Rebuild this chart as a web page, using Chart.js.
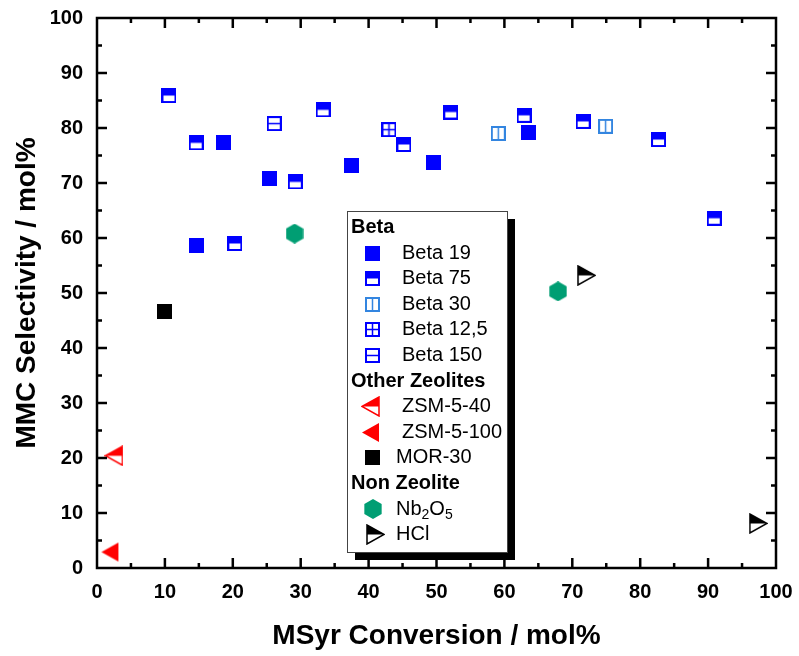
<!DOCTYPE html>
<html>
<head>
<meta charset="utf-8">
<script src="https://cdn.jsdelivr.net/npm/chart.js@4.4.1/dist/chart.umd.min.js"></script>
<style>
  html, body { margin: 0; padding: 0; background: #fff; }
</style>
</head>
<body>
<canvas id="chart" width="799" height="656"></canvas>
<script>
// values
const beta19X = [18.6, 25.4, 37.5, 49.5, 63.5, 14.7];
const beta19Y = [77.3, 70.8, 73.2, 73.8, 79.1, 58.7];
const beta75X = [10.6, 14.6, 33.3, 45.2, 29.2, 20.3, 52.1, 62.9, 71.6, 82.7, 90.9];
const beta75Y = [85.9, 77.3, 83.3, 77.0, 70.2, 59.0, 82.9, 82.3, 81.2, 77.9, 63.6];
const beta30X = [59.1, 74.9];
const beta30Y = [79.0, 80.3];
const beta125X = [43.0];
const beta125Y = [79.7];
const beta150X = [26.1];
const beta150Y = [80.8];
const zsm40X = [2.5];
const zsm40Y = [20.4];
const zsm100X = [1.9];
const zsm100Y = [2.9];
const mor30X = [10.0];
const mor30Y = [46.7];
const nb2o5X = [29.1, 67.9];
const nb2o5Y = [60.8, 50.3];
const hclX = [72.1, 97.4];
const hclY = [53.2, 8.1];

const xTitle = 'MSyr Conversion / mol%';
const yTitle = 'MMC Selectivity / mol%';
const FONT = '"Liberation Sans", Arial, sans-serif';

const BLUE = '#0000ff';
const LIGHTBLUE = '#3385e0';
const RED = '#ff0000';
const GREEN = '#009e73';

function pts(xs, ys) {
    return xs.map((v, i) => ({x: v, y: ys[i]}));
}

function marker(w, h, draw) {
    const c = document.createElement('canvas');
    c.width = w;
    c.height = h;
    draw(c.getContext('2d'), w, h);
    return c;
}

// square markers, 15px
function square(color, opts) {
    return marker(15, 15, (ctx) => {
        if (opts.full) {
            ctx.fillStyle = color;
            ctx.fillRect(0, 0, 15, 15);
            return;
        }
        ctx.fillStyle = '#fff';
        ctx.fillRect(1, 1, 13, 13);
        if (opts.top) {
            ctx.fillStyle = color;
            ctx.fillRect(0, 0, 15, 7.5);
        }
        ctx.strokeStyle = color;
        ctx.lineWidth = 2;
        ctx.strokeRect(1, 1, 13, 13);
        ctx.lineWidth = 1.5;
        ctx.beginPath();
        if (opts.h) { ctx.moveTo(1, 7.5); ctx.lineTo(14, 7.5); }
        if (opts.v) { ctx.moveTo(7.5, 1); ctx.lineTo(7.5, 14); }
        ctx.stroke();
    });
}

function triangle(color, pointLeft, half) {
    return marker(19, 21, (ctx) => {
        const tip = pointLeft ? [1, 10.5] : [18, 10.5];
        const bx = pointLeft ? 18 : 1;
        ctx.fillStyle = half ? '#fff' : color;
        ctx.beginPath();
        ctx.moveTo(tip[0], tip[1]);
        ctx.lineTo(bx, 1);
        ctx.lineTo(bx, 20);
        ctx.closePath();
        ctx.fill();
        if (half) {
            ctx.fillStyle = color;
            ctx.beginPath();
            ctx.moveTo(tip[0], tip[1]);
            ctx.lineTo(bx, 1);
            ctx.lineTo(bx, 10.5);
            ctx.closePath();
            ctx.fill();
            ctx.strokeStyle = color;
            ctx.lineWidth = 1.5;
            ctx.beginPath();
            ctx.moveTo(tip[0], tip[1]);
            ctx.lineTo(bx, 1);
            ctx.lineTo(bx, 20);
            ctx.closePath();
            ctx.stroke();
        }
    });
}

function hexagon(color) {
    return marker(18, 20, (ctx) => {
        ctx.fillStyle = color;
        ctx.beginPath();
        for (let k = 0; k < 6; k++) {
            const a = (-90 + 60 * k) * Math.PI / 180;
            const px = 9 + 10 * Math.cos(a);
            const py = 10 + 10 * Math.sin(a);
            if (k === 0) ctx.moveTo(px, py); else ctx.lineTo(px, py);
        }
        ctx.closePath();
        ctx.fill();
    });
}

const mBeta19 = square(BLUE, {full: true});
const mBeta75 = square(BLUE, {top: true});
const mBeta30 = square(LIGHTBLUE, {v: true});
const mBeta125 = square(BLUE, {h: true, v: true});
const mBeta150 = square(BLUE, {h: true});
const mZsm40 = triangle(RED, true, true);
const mZsm100 = triangle(RED, true, false);
const mMor30 = square('#000', {full: true});
const mNb2o5 = hexagon(GREEN);
const mHcl = triangle('#000', false, true);

function ds(label, xs, ys, style) {
    return {
        label: label,
        data: pts(xs, ys),
        pointStyle: style,
        pointRadius: 8,
        pointHoverRadius: 8,
        showLine: false,
        clip: false
    };
}

// legend rows: heading rows have no marker
const legendRows = [
    {text: 'Beta', head: true},
    {text: 'Beta 19', m: mBeta19, tx: 402},
    {text: 'Beta 75', m: mBeta75, tx: 402},
    {text: 'Beta 30', m: mBeta30, tx: 402},
    {text: 'Beta 12,5', m: mBeta125, tx: 402},
    {text: 'Beta 150', m: mBeta150, tx: 402},
    {text: 'Other Zeolites', head: true},
    {text: 'ZSM-5-40', m: mZsm40, tx: 402, mx: 370},
    {text: 'ZSM-5-100', m: mZsm100, tx: 402, mx: 370},
    {text: 'MOR-30', m: mMor30, tx: 396},
    {text: 'Non Zeolite', head: true},
    {text: 'Nb|2|O|5', m: mNb2o5, tx: 396, sub: true},
    {text: 'HCl', m: mHcl, tx: 396, mx: 375}
];

const framePlugin = {
    id: 'frame',
    afterDatasetsDraw(chart) {
        const {ctx, chartArea: a, scales: {x, y}} = chart;
        ctx.save();
        ctx.strokeStyle = '#000';
        ctx.lineWidth = 2.5;
        ctx.strokeRect(a.left, a.top, a.right - a.left, a.bottom - a.top);
        ctx.beginPath();
        for (let v = 5; v < 100; v += 5) {
            const len = v % 10 === 0 ? 10 : 5;
            const px = x.getPixelForValue(v);
            ctx.moveTo(px, a.bottom); ctx.lineTo(px, a.bottom - len);
            ctx.moveTo(px, a.top); ctx.lineTo(px, a.top + len);
            const py = y.getPixelForValue(v);
            ctx.moveTo(a.left, py); ctx.lineTo(a.left + len, py);
            ctx.moveTo(a.right, py); ctx.lineTo(a.right - len, py);
        }
        ctx.stroke();
        ctx.restore();
    }
};

const legendPlugin = {
    id: 'groupLegend',
    afterDraw(chart) {
        const ctx = chart.ctx;
        const bx = 347, by = 211, bw = 160, bh = 341;
        ctx.save();
        ctx.fillStyle = '#000';
        ctx.fillRect(bx + 8, by + 8, bw, bh);
        ctx.fillStyle = '#fff';
        ctx.fillRect(bx, by, bw, bh);
        ctx.strokeStyle = '#444';
        ctx.lineWidth = 1;
        ctx.strokeRect(bx + 0.5, by + 0.5, bw, bh);
        ctx.textBaseline = 'middle';
        ctx.fillStyle = '#000';
        legendRows.forEach((r, i) => {
            const ry = 227.5 + 25.6 * i;
            if (r.head) {
                ctx.font = 'bold 20px ' + FONT;
                ctx.fillText(r.text, 351, ry);
                return;
            }
            const mx = r.mx || 372.5;
            ctx.drawImage(r.m, Math.round(mx - r.m.width / 2), Math.round(ry - r.m.height / 2));
            ctx.fillStyle = '#000';
            if (r.sub) {
                const parts = r.text.split('|');
                let tx = r.tx;
                parts.forEach((p, k) => {
                    const small = k % 2 === 1;
                    ctx.font = (small ? '14px ' : '20px ') + FONT;
                    ctx.fillText(p, tx, ry + (small ? 6 : 0));
                    tx += ctx.measureText(p).width;
                });
            } else {
                ctx.font = '20px ' + FONT;
                ctx.fillText(r.text, r.tx, ry);
            }
        });
        ctx.restore();
    }
};

const tickFont = {family: FONT, size: 20, weight: 'bold'};
const titleFont = {family: FONT, size: 28, weight: 'bold'};

new Chart(document.getElementById('chart'), {
    type: 'scatter',
    data: {
        datasets: [
            ds('Beta 19', beta19X, beta19Y, mBeta19),
            ds('Beta 75', beta75X, beta75Y, mBeta75),
            ds('Beta 30', beta30X, beta30Y, mBeta30),
            ds('Beta 12,5', beta125X, beta125Y, mBeta125),
            ds('Beta 150', beta150X, beta150Y, mBeta150),
            ds('ZSM-5-40', zsm40X, zsm40Y, mZsm40),
            ds('ZSM-5-100', zsm100X, zsm100Y, mZsm100),
            ds('MOR-30', mor30X, mor30Y, mMor30),
            ds('Nb2O5', nb2o5X, nb2o5Y, mNb2o5),
            ds('HCl', hclX, hclY, mHcl)
        ]
    },
    options: {
        responsive: false,
        animation: false,
        layout: {padding: {top: 18, right: 23, left: 0, bottom: 0}},
        plugins: {
            legend: {display: false},
            tooltip: {enabled: false}
        },
        scales: {
            x: {
                type: 'linear',
                min: 0,
                max: 100,
                ticks: {stepSize: 10, font: tickFont, color: '#000', padding: 12, maxRotation: 0},
                grid: {display: false, drawTicks: false},
                border: {display: false},
                title: {display: true, text: xTitle, font: titleFont, color: '#000', padding: {top: 0, bottom: 3}},
                afterFit(s) {
                    s.height = 88;
                    s.paddingLeft = 0;
                    s.paddingRight = 0;
                }
            },
            y: {
                type: 'linear',
                min: 0,
                max: 100,
                ticks: {stepSize: 10, font: tickFont, color: '#000', padding: 14},
                grid: {display: false, drawTicks: false},
                border: {display: false},
                title: {display: true, text: yTitle, font: titleFont, color: '#000', padding: {top: 10, bottom: 0}},
                afterFit(s) {
                    s.width = 97;
                    s.paddingTop = 0;
                    s.paddingBottom = 0;
                }
            }
        }
    },
    plugins: [framePlugin, legendPlugin]
});
</script>
</body>
</html>
